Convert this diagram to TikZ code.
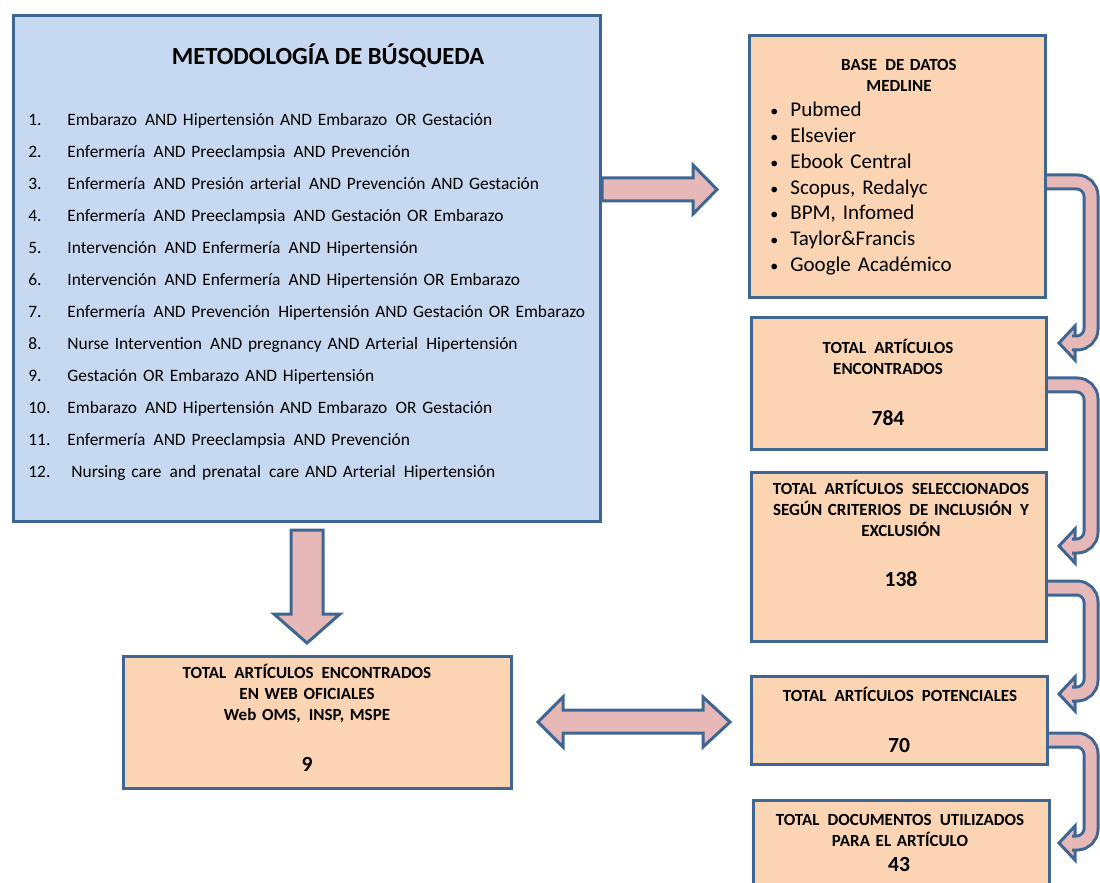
\documentclass[tikz,border=0pt]{standalone}
\usepackage{fontspec}
\setmainfont{Carlito}
\usepackage{xcolor}
\usepackage{tikz}
\usetikzlibrary{positioning,calc,backgrounds}

\definecolor{metblue}{HTML}{C6D9F1}
\definecolor{frameblue}{HTML}{3F6592}
\definecolor{peach}{HTML}{FBD4B4}
\definecolor{rosearrow}{HTML}{E6B9B8}

\newcommand{\qn}[1]{\makebox[19.5pt][l]{#1}}
\newcommand{\bd}{\makebox[10pt][l]{\fontsize{8}{8}\selectfont\textbullet}}
\newcommand{\xs}{\hspace{1.2pt}}

\begin{document}
\begin{tikzpicture}[x=0.5pt, y=-0.5pt,
    metbox/.style={draw=frameblue, line width=1.5pt, fill=metblue, inner sep=0pt, anchor=north west},
    peachbox/.style={draw=frameblue, line width=1.5pt, fill=peach, inner sep=0pt, anchor=north west},
    hdr/.style={anchor=base, inner sep=0pt, text width=145pt, align=center, font=\fontsize{8.5}{10.5}\selectfont\bfseries},
    numtxt/.style={anchor=base, inner sep=0pt, font=\fontsize{10.8}{12}\selectfont\bfseries},
    blockarrow/.style={draw=frameblue, line width=1.5pt, fill=rosearrow, line join=miter},
    bentarrow/.style={draw=frameblue, line width=1.5pt, double=rosearrow, double distance=5.5pt, rounded corners=7pt}]

    \useasboundingbox (0,0) rectangle (1100,883);

    % Boxes
    \node[metbox, minimum width=293.5pt, minimum height=253pt] (metodo) at (12,14) {};
    \node[peachbox, minimum width=148pt, minimum height=131pt] (bd) at (748,34) {};
    \node[peachbox, minimum width=147.5pt, minimum height=66pt] (enc) at (750,316) {};
    \node[peachbox, minimum width=147.5pt, minimum height=84.5pt] (sel) at (750,471) {};
    \node[peachbox, minimum width=148pt, minimum height=44pt] (pot) at (750,675) {};
    \node[peachbox, minimum width=148pt, minimum height=43.5pt] (doc) at (752,799) {};
    \node[peachbox, minimum width=194pt, minimum height=66pt] (web) at (122,655) {};

    % Search terms
    \node[anchor=base, inner sep=0pt, font=\fontsize{12.3}{14}\selectfont\bfseries] (titulo) at (328,65) {METODOLOGÍA DE BÚSQUEDA};
    \node[anchor=base west, inner sep=0pt, text width=285pt, align=left, font=\fontsize{8.7}{16}\selectfont] (busq) at (28,126) {%
        \qn{1.}Embarazo \xs AND Hipertensión AND Embarazo \xs OR Gestación\\
        \qn{2.}Enfermería \xs AND Preeclampsia \xs AND Prevención\\
        \qn{3.}Enfermería \xs AND Presión arterial \xs AND Prevención AND Gestación\\
        \qn{4.}Enfermería \xs AND Preeclampsia \xs AND Gestación OR Embarazo\\
        \qn{5.}Intervención \xs AND Enfermería \xs AND Hipertensión\\
        \qn{6.}Intervención \xs AND Enfermería \xs AND Hipertensión OR Embarazo\\
        \qn{7.}Enfermería \xs AND Prevención \xs Hipertensión AND Gestación OR Embarazo\\
        \qn{8.}Nurse Intervention \xs AND pregnancy AND Arterial \xs Hipertensión\\
        \qn{9.}Gestación OR Embarazo AND Hipertensión\\
        \qn{10.}Embarazo \xs AND Hipertensión AND Embarazo \xs OR Gestación\\
        \qn{11.}Enfermería \xs AND Preeclampsia \xs AND Prevención\\
        \qn{12.}\hspace{2pt}Nursing care \xs and prenatal \xs care AND Arterial \xs Hipertensión};

    % Databases
    \node[hdr] (bdtit) at (899,70.5) {BASE \xs DE DATOS\\MEDLINE};
    \node[anchor=base west, inner sep=0pt, text width=125pt, align=left, font=\fontsize{10.5}{12.85}\selectfont] (bdlist) at (770,117) {%
        \bd Pubmed\\
        \bd Elsevier\\
        \bd Ebook Central\\
        \bd Scopus, Redalyc\\
        \bd BPM, Infomed\\
        \bd Taylor\&Francis\\
        \bd Google Académico};

    % Counts
    \node[hdr] (enctxt) at (888,353.5) {TOTAL \xs ARTÍCULOS\\ENCONTRADOS};
    \node[numtxt] (n784) at (888,425) {784};
    \node[hdr] (seltxt) at (901,494.5) {TOTAL \xs ARTÍCULOS \xs SELECCIONADOS\\SEGÚN CRITERIOS \xs DE INCLUSIÓN \xs Y\\EXCLUSIÓN};
    \node[numtxt] (n138) at (901,586) {138};
    \node[hdr] (pottxt) at (900,701.5) {TOTAL \xs ARTÍCULOS \xs POTENCIALES};
    \node[numtxt] (n70) at (899,752) {70};
    \node[hdr] (doctxt) at (900,825.5) {TOTAL \xs DOCUMENTOS \xs UTILIZADOS\\PARA EL ARTÍCULO};
    \node[numtxt] (n43) at (899,871) {43};
    \node[hdr, text width=185pt] (webtxt) at (307,678.5) {TOTAL \xs ARTÍCULOS \xs ENCONTRADOS\\EN WEB OFICIALES\\Web OMS, \xs INSP, MSPE};
    \node[numtxt] (n9) at (307,771) {9};

    \begin{scope}[on background layer]
    % Arrows
    \draw[blockarrow] (metodo.east|-0,178) -- (693,178) -- (693,165) -- (717,189.5) -- (693,214) -- (693,201) -- (metodo.east|-0,201) -- cycle;
    \draw[blockarrow] (291,530) -- (323,530) -- (323,614) -- (340,614) -- (307,643) -- (274,614) -- (291,614) -- cycle;
    \draw[blockarrow] (538,722) -- (563,697) -- (563,710) -- (703,710) -- (703,697) -- (730,722) -- (703,747) -- (703,733) -- (563,733) -- (563,747) -- cycle;
    \foreach \src/\ya/\yb in {bd/182/343, enc/385/546, sel/588/694, pot/740/843} {
        \draw[blockarrow] (1075,\yb-17) -- (1059,\yb) -- (1075,\yb+17) -- cycle;
        \draw[bentarrow] (\src.east|-0,\ya) -- (1091,\ya) -- (1091,\yb) -- (1072,\yb);
    }
    \end{scope}
\end{tikzpicture}
\end{document}
